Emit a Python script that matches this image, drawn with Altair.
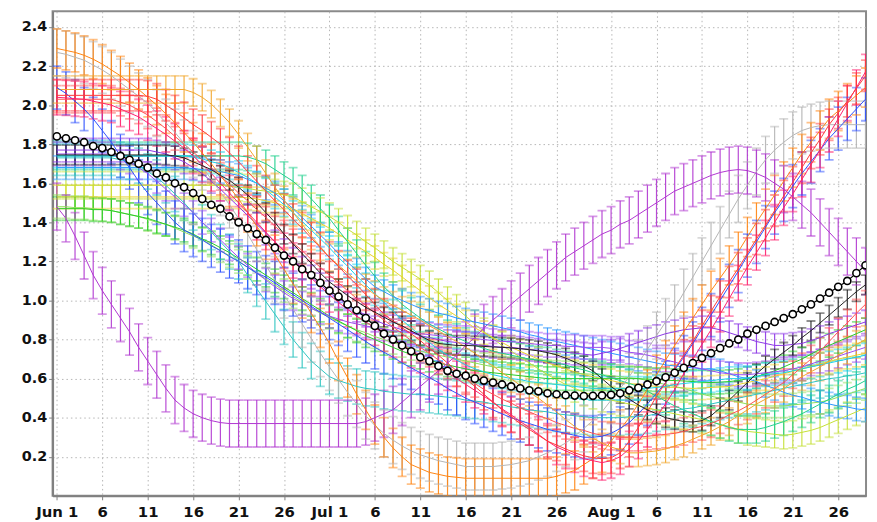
import altair as alt
import pandas as pd

# Day index 0 = Jun 1 ... 89 = Aug 29
TICK_DAYS = [0, 5, 10, 15, 20, 25, 30, 35, 40, 45, 50, 55, 61, 66, 71, 76, 81, 86]
TICK_LABELS = ["Jun 1", "6", "11", "16", "21", "26", "Jul 1", "6", "11", "16", "21", "26",
               "Aug 1", "6", "11", "16", "21", "26"]
Y_TICKS = [0.2, 0.4, 0.6, 0.8, 1.0, 1.2, 1.4, 1.6, 1.8, 2.0, 2.2, 2.4]

MEAN = [
    1.84, 1.83, 1.82, 1.81, 1.79, 1.78, 1.76, 1.74, 1.72, 1.70,
    1.68, 1.65, 1.63, 1.60, 1.58, 1.55, 1.52, 1.49, 1.47, 1.43,
    1.40, 1.37, 1.34, 1.31, 1.27, 1.23, 1.20, 1.16, 1.13, 1.09,
    1.05, 1.02, 0.98, 0.95, 0.91, 0.87, 0.83, 0.80, 0.77, 0.74,
    0.71, 0.69, 0.665, 0.64, 0.625, 0.615, 0.60, 0.59, 0.58, 0.57,
    0.56, 0.55, 0.54, 0.535, 0.525, 0.52, 0.515, 0.513, 0.511, 0.512,
    0.514, 0.517, 0.525, 0.54, 0.553, 0.57, 0.587, 0.607, 0.63, 0.655,
    0.68, 0.706, 0.73, 0.756, 0.78, 0.80, 0.83, 0.85, 0.87, 0.89,
    0.91, 0.93, 0.955, 0.98, 1.01, 1.04, 1.07, 1.10, 1.14, 1.18]

BLACK = [1.745] * 13 + [
    1.74, 1.73, 1.71, 1.69, 1.67, 1.64, 1.615,
    1.58, 1.54, 1.50, 1.45, 1.40, 1.34, 1.29, 1.24, 1.19, 1.14,
    1.095, 1.06, 1.025, 0.995, 0.965, 0.94, 0.915, 0.89, 0.87, 0.845,
    0.82, 0.795, 0.78, 0.775, 0.77, 0.77, 0.768, 0.765, 0.762, 0.76,
    0.757, 0.753, 0.748, 0.742, 0.733, 0.722, 0.705, 0.685, 0.665, 0.64,
    0.60, 0.56, 0.525, 0.495, 0.465, 0.44, 0.42, 0.40, 0.39, 0.38,
    0.378, 0.385, 0.41, 0.45, 0.49, 0.535, 0.58, 0.625, 0.665, 0.70,
    0.735, 0.77, 0.81, 0.845, 0.885, 0.925, 0.965, 1.005, 1.045, 1.08]

ORANGE = [
    2.29, 2.28, 2.27, 2.255, 2.235, 2.21, 2.18, 2.15, 2.115, 2.08,
    2.04, 2.0, 1.955, 1.91, 1.86, 1.81, 1.755, 1.70, 1.64, 1.58,
    1.52, 1.45, 1.38, 1.31, 1.235, 1.16, 1.085, 1.01, 0.935, 0.86,
    0.78, 0.69, 0.605, 0.52, 0.44, 0.365, 0.30, 0.245, 0.20, 0.16,
    0.14, 0.12, 0.11, 0.10, 0.095, 0.09, 0.09, 0.09, 0.09, 0.09,
    0.09, 0.09, 0.09, 0.09, 0.09, 0.10, 0.115, 0.13, 0.16, 0.19,
    0.22, 0.28, 0.34, 0.40, 0.47, 0.545, 0.62, 0.695, 0.77, 0.84,
    0.91, 0.98, 1.05, 1.115, 1.18, 1.25, 1.325, 1.40, 1.47, 1.54,
    1.61, 1.68, 1.75, 1.81, 1.87, 1.93, 1.97, 2.01, 2.05, 2.09]

GREY = [
    2.27, 2.26, 2.245, 2.23, 2.205, 2.18, 2.15, 2.115, 2.08, 2.045,
    2.01, 1.96, 1.91, 1.86, 1.805, 1.75, 1.685, 1.62, 1.555, 1.49,
    1.42, 1.34, 1.26, 1.18, 1.105, 1.03, 0.955, 0.88, 0.805, 0.73,
    0.66, 0.595, 0.53, 0.47, 0.41, 0.36, 0.32, 0.285, 0.255, 0.23,
    0.21, 0.195, 0.18, 0.17, 0.16, 0.15, 0.15, 0.15, 0.15, 0.155,
    0.16, 0.17, 0.18, 0.2, 0.22, 0.245, 0.27, 0.305, 0.345, 0.385,
    0.43, 0.49, 0.55, 0.61, 0.68, 0.75, 0.82, 0.89, 0.96, 1.04,
    1.12, 1.20, 1.28, 1.36, 1.44, 1.52, 1.59, 1.66, 1.72, 1.77,
    1.81, 1.845, 1.87, 1.885, 1.895, 1.90, 1.90, 1.90, 1.90, 1.90]

GOLD = [2.08] * 15 + [
    2.065, 2.04, 2.005, 1.96, 1.91,
    1.85, 1.785, 1.72, 1.65, 1.58, 1.515, 1.45, 1.39, 1.33, 1.275,
    1.22, 1.18, 1.14, 1.10, 1.065, 1.03, 1.0, 0.975, 0.95, 0.925,
    0.90, 0.87, 0.845, 0.815, 0.79, 0.76, 0.73, 0.695, 0.665, 0.63,
    0.60, 0.565, 0.53, 0.50, 0.465, 0.43, 0.39, 0.355, 0.32, 0.295,
    0.27, 0.25, 0.235, 0.22, 0.22, 0.225, 0.23, 0.24, 0.255, 0.27,
    0.29, 0.31, 0.33, 0.355, 0.38, 0.41, 0.44, 0.47, 0.495, 0.52,
    0.55, 0.58, 0.61, 0.635, 0.66, 0.69, 0.72, 0.745, 0.775, 0.80]

RED = [2.05] * 10 + [
    2.045, 2.03, 2.0, 1.97, 1.935, 1.90, 1.87, 1.835, 1.80, 1.755,
    1.71, 1.66, 1.61, 1.56, 1.51, 1.465, 1.415, 1.37, 1.32, 1.27,
    1.22, 1.175, 1.125, 1.08, 1.03, 0.98, 0.93, 0.895, 0.86, 0.83,
    0.795, 0.755, 0.72, 0.68, 0.64, 0.60, 0.56, 0.52, 0.48, 0.44,
    0.405, 0.37, 0.34, 0.31, 0.28, 0.26, 0.24, 0.22, 0.205, 0.195,
    0.19, 0.195, 0.22, 0.28, 0.35, 0.43, 0.51, 0.58, 0.65, 0.72,
    0.79, 0.87, 0.945, 1.02, 1.095, 1.165, 1.24, 1.315, 1.385, 1.46,
    1.535, 1.605, 1.68, 1.755, 1.825, 1.90, 1.96, 2.02, 2.085, 2.15]

CRIMSON = [
    2.04, 2.037, 2.033, 2.03, 2.02, 2.01, 2.0, 1.98, 1.96, 1.94,
    1.91, 1.88, 1.85, 1.815, 1.78, 1.74, 1.695, 1.65, 1.60, 1.55,
    1.50, 1.45, 1.40, 1.35, 1.30, 1.255, 1.205, 1.16, 1.115, 1.07,
    1.03, 0.99, 0.955, 0.92, 0.89, 0.86, 0.83, 0.80, 0.775, 0.745,
    0.72, 0.69, 0.66, 0.63, 0.60, 0.57, 0.54, 0.51, 0.48, 0.445,
    0.415, 0.38, 0.35, 0.315, 0.28, 0.25, 0.23, 0.21, 0.19, 0.18,
    0.17, 0.18, 0.20, 0.24, 0.28, 0.34, 0.405, 0.47, 0.545, 0.625,
    0.70, 0.775, 0.85, 0.93, 1.01, 1.09, 1.17, 1.245, 1.32, 1.40,
    1.475, 1.545, 1.62, 1.695, 1.77, 1.85, 1.93, 2.01, 2.09, 2.17]

RED3 = [2.03] * 7 + [2.015, 2.0, 1.975,
    1.95, 1.915, 1.88, 1.84, 1.80, 1.76, 1.72, 1.68, 1.635, 1.595,
    1.55, 1.51, 1.465, 1.425, 1.38, 1.34, 1.295, 1.255, 1.21, 1.17,
    1.13, 1.09, 1.05, 1.01, 0.975, 0.935, 0.90, 0.865, 0.83, 0.795,
    0.76, 0.73, 0.695, 0.665, 0.63, 0.60, 0.575, 0.545, 0.52, 0.495,
    0.475, 0.45, 0.43, 0.41, 0.395, 0.375, 0.36, 0.345, 0.335, 0.32,
    0.31, 0.305, 0.30, 0.30, 0.30, 0.305, 0.31, 0.315, 0.32, 0.33,
    0.345, 0.355, 0.37, 0.39, 0.415, 0.435, 0.46, 0.49, 0.52, 0.55,
    0.58, 0.62, 0.66, 0.70, 0.74, 0.79, 0.84, 0.885, 0.935, 0.98]

BLUE = [
    2.09, 2.06, 2.02, 1.98, 1.93, 1.87, 1.81, 1.74, 1.68, 1.61,
    1.55, 1.50, 1.45, 1.40, 1.36, 1.335, 1.31, 1.28, 1.255, 1.225,
    1.20, 1.17, 1.14, 1.12, 1.09, 1.06, 1.03, 1.0, 0.97, 0.94,
    0.91, 0.88, 0.85, 0.82, 0.79, 0.76, 0.735, 0.71, 0.68, 0.655,
    0.63, 0.605, 0.58, 0.55, 0.525, 0.50, 0.48, 0.46, 0.44, 0.42,
    0.40, 0.385, 0.37, 0.355, 0.34, 0.33, 0.32, 0.31, 0.30, 0.30,
    0.305, 0.32, 0.345, 0.375, 0.42, 0.47, 0.525, 0.58, 0.645, 0.71,
    0.78, 0.855, 0.925, 1.0, 1.075, 1.15, 1.23, 1.30, 1.375, 1.45,
    1.515, 1.585, 1.65, 1.71, 1.77, 1.83, 1.88, 1.93, 1.98, 2.03]

PURPLE1 = [
    1.48, 1.42, 1.33, 1.23, 1.13, 1.05, 0.98, 0.91, 0.84, 0.76,
    0.69, 0.62, 0.55, 0.49, 0.45, 0.42, 0.40, 0.385, 0.375, 0.37] + [0.37] * 14 + [
    0.38, 0.40, 0.42, 0.44, 0.48, 0.52,
    0.56, 0.60, 0.64, 0.68, 0.72, 0.77, 0.81, 0.86, 0.90, 0.94,
    0.98, 1.02, 1.06, 1.10, 1.14, 1.18, 1.22, 1.25, 1.28, 1.31,
    1.34, 1.36, 1.39, 1.41, 1.44, 1.47, 1.50, 1.53, 1.56, 1.58,
    1.60, 1.62, 1.64, 1.655, 1.665, 1.67, 1.665, 1.65, 1.63, 1.60,
    1.57, 1.53, 1.49, 1.45, 1.40, 1.35, 1.30, 1.25, 1.20, 1.15]

VIOLET = [1.77] * 11 + [1.76, 1.75, 1.73, 1.71, 1.68, 1.65, 1.61, 1.57, 1.525,
    1.48, 1.435, 1.39, 1.345, 1.30, 1.255, 1.21, 1.165, 1.12, 1.08,
    1.04, 1.01, 0.98, 0.95, 0.925, 0.90, 0.88, 0.865, 0.85, 0.835,
    0.82, 0.81, 0.80, 0.79, 0.785, 0.78, 0.775, 0.77, 0.765, 0.76,
    0.76, 0.755, 0.75, 0.745, 0.74, 0.74, 0.735, 0.73, 0.725, 0.72,
    0.73, 0.74, 0.755, 0.77, 0.785, 0.80, 0.815, 0.83, 0.84, 0.85,
    0.855, 0.86, 0.86, 0.85, 0.835, 0.82, 0.805, 0.79, 0.78, 0.77,
    0.77, 0.775, 0.78, 0.795, 0.81, 0.83, 0.845, 0.86, 0.875, 0.89]

PURPLE2 = [1.75] * 7 + [1.73, 1.71, 1.68,
    1.65, 1.61, 1.57, 1.53, 1.49, 1.45, 1.40, 1.36, 1.31, 1.265,
    1.22, 1.18, 1.14, 1.105, 1.07, 1.04, 1.01, 0.985, 0.96, 0.94,
    0.92, 0.905, 0.89, 0.88, 0.87, 0.86, 0.855, 0.845, 0.84, 0.835,
    0.83, 0.825, 0.82, 0.815, 0.81, 0.81, 0.805, 0.80, 0.795, 0.79,
    0.79, 0.785, 0.78, 0.775, 0.77, 0.77, 0.765, 0.765, 0.76, 0.76,
    0.76, 0.755, 0.745, 0.735, 0.73, 0.72, 0.71, 0.695, 0.685, 0.67,
    0.66, 0.65, 0.64, 0.63, 0.625, 0.62, 0.62, 0.625, 0.63, 0.635,
    0.64, 0.65, 0.66, 0.675, 0.69, 0.70, 0.715, 0.73, 0.745, 0.76]

TEAL = [1.73] * 7 + [1.72, 1.71, 1.69,
    1.66, 1.63, 1.59, 1.545, 1.50, 1.45, 1.40, 1.35, 1.30, 1.25,
    1.20, 1.13, 1.06, 0.995, 0.93, 0.865, 0.80, 0.745, 0.69, 0.65,
    0.61, 0.59, 0.575, 0.56, 0.55, 0.545, 0.535, 0.53, 0.525, 0.52,
    0.52, 0.515, 0.51, 0.505, 0.50, 0.49, 0.485, 0.48, 0.47, 0.465,
    0.455, 0.45, 0.44, 0.435, 0.43, 0.42, 0.415, 0.41, 0.405, 0.40,
    0.40, 0.40, 0.40, 0.405, 0.405, 0.41, 0.42, 0.43, 0.435, 0.445,
    0.45, 0.46, 0.47, 0.48, 0.49, 0.50, 0.51, 0.52, 0.53, 0.54,
    0.55, 0.56, 0.57, 0.58, 0.59, 0.60, 0.605, 0.615, 0.62, 0.63]

CYAN = [1.74] * 15 + [1.735, 1.725, 1.71, 1.70, 1.68,
    1.655, 1.63, 1.60, 1.565, 1.53, 1.49, 1.45, 1.405, 1.36, 1.315,
    1.27, 1.22, 1.175, 1.125, 1.08, 1.035, 0.99, 0.945, 0.90, 0.86,
    0.82, 0.785, 0.75, 0.72, 0.695, 0.67, 0.65, 0.635, 0.62, 0.61,
    0.60, 0.595, 0.585, 0.58, 0.575, 0.57, 0.565, 0.56, 0.555, 0.55,
    0.55, 0.55, 0.55, 0.55, 0.55, 0.55, 0.555, 0.56, 0.57, 0.575,
    0.58, 0.585, 0.59, 0.595, 0.60, 0.60, 0.605, 0.61, 0.62, 0.625,
    0.63, 0.64, 0.65, 0.66, 0.67, 0.68, 0.69, 0.70, 0.71, 0.72]

SKY = [1.68] * 15 + [1.675, 1.67, 1.665, 1.66, 1.65,
    1.64, 1.62, 1.60, 1.575, 1.55, 1.51, 1.47, 1.425, 1.38, 1.335,
    1.29, 1.24, 1.195, 1.155, 1.11, 1.07, 1.045, 1.02, 1.0, 0.98,
    0.96, 0.95, 0.935, 0.925, 0.91, 0.90, 0.89, 0.88, 0.87, 0.86,
    0.85, 0.84, 0.825, 0.815, 0.80, 0.79, 0.78, 0.77, 0.76, 0.75,
    0.74, 0.73, 0.72, 0.71, 0.70, 0.69, 0.68, 0.67, 0.665, 0.66,
    0.655, 0.65, 0.65, 0.64, 0.625, 0.61, 0.60, 0.585, 0.565, 0.55,
    0.53, 0.515, 0.505, 0.49, 0.48, 0.47, 0.46, 0.455, 0.445, 0.44]

JADE = [1.74] * 21 + [1.735, 1.72, 1.70, 1.67, 1.64, 1.61, 1.57, 1.52, 1.47,
    1.42, 1.36, 1.30, 1.24, 1.18, 1.125, 1.07, 1.025, 0.98, 0.945,
    0.91, 0.88, 0.855, 0.83, 0.81, 0.79, 0.77, 0.755, 0.74, 0.73,
    0.72, 0.71, 0.70, 0.695, 0.69, 0.68, 0.67, 0.655, 0.645, 0.63,
    0.62, 0.605, 0.59, 0.575, 0.56, 0.535, 0.51, 0.485, 0.46, 0.44,
    0.42, 0.40, 0.38, 0.365, 0.35, 0.34, 0.34, 0.34, 0.35, 0.365,
    0.38, 0.40, 0.42, 0.445, 0.47, 0.495, 0.52, 0.545, 0.565, 0.59]

GREEN = [
    1.47, 1.47, 1.47, 1.47, 1.465, 1.465, 1.46, 1.45, 1.44, 1.43,
    1.42, 1.405, 1.39, 1.375, 1.36, 1.34, 1.315, 1.295, 1.27, 1.245,
    1.215, 1.19, 1.16, 1.13, 1.10, 1.07, 1.04, 1.01, 0.98, 0.95,
    0.92, 0.895, 0.87, 0.845, 0.82, 0.80, 0.78, 0.76, 0.74, 0.725,
    0.71, 0.695, 0.68, 0.67, 0.66, 0.65, 0.64, 0.635, 0.63, 0.625,
    0.62, 0.615, 0.61, 0.605, 0.60, 0.60, 0.60, 0.60, 0.60, 0.60,
    0.60, 0.60, 0.60, 0.60, 0.60, 0.597, 0.595, 0.592, 0.59, 0.588,
    0.585, 0.582, 0.58, 0.582, 0.585, 0.59, 0.60, 0.61, 0.625, 0.64,
    0.66, 0.68, 0.70, 0.725, 0.75, 0.77, 0.79, 0.81, 0.83, 0.85]

LGREEN = [
    1.48, 1.48, 1.475, 1.475, 1.47, 1.465, 1.46, 1.45, 1.44, 1.43,
    1.415, 1.40, 1.39, 1.37, 1.35, 1.33, 1.31, 1.285, 1.255, 1.23,
    1.20, 1.17, 1.14, 1.11, 1.08, 1.05, 1.02, 0.99, 0.96, 0.935,
    0.915, 0.89, 0.87, 0.85, 0.835, 0.815, 0.80, 0.785, 0.77, 0.755,
    0.74, 0.73, 0.72, 0.71, 0.70, 0.69, 0.68, 0.67, 0.66, 0.655,
    0.65, 0.645, 0.64, 0.638, 0.635, 0.632, 0.63, 0.628, 0.625, 0.622,
    0.62, 0.615, 0.61, 0.605, 0.60, 0.59, 0.58, 0.57, 0.56, 0.55,
    0.535, 0.52, 0.51, 0.50, 0.49, 0.48, 0.47, 0.465, 0.46, 0.46,
    0.46, 0.465, 0.47, 0.475, 0.48, 0.49, 0.505, 0.52, 0.535, 0.55]

YGREEN = [1.59] * 19 + [1.585,
    1.58, 1.575, 1.565, 1.56, 1.55, 1.54, 1.53, 1.505, 1.48, 1.455,
    1.43, 1.40, 1.365, 1.335, 1.30, 1.27, 1.235, 1.20, 1.17, 1.14,
    1.11, 1.08, 1.04, 1.0, 0.96, 0.92, 0.88, 0.84, 0.805, 0.77,
    0.74, 0.71, 0.68, 0.65, 0.62, 0.595, 0.57, 0.55, 0.53, 0.515,
    0.50, 0.49, 0.48, 0.47, 0.46, 0.45, 0.44, 0.43, 0.42, 0.41,
    0.40, 0.39, 0.38, 0.365, 0.355, 0.34, 0.33, 0.325, 0.32, 0.315,
    0.31, 0.315, 0.325, 0.335, 0.35, 0.37, 0.39, 0.41, 0.43, 0.45]

YELLOW = [1.53] * 21 + [1.525, 1.52, 1.51, 1.50, 1.485, 1.47, 1.445, 1.42, 1.395,
    1.37, 1.34, 1.31, 1.28, 1.25, 1.22, 1.185, 1.155, 1.12, 1.085,
    1.05, 1.015, 0.98, 0.95, 0.92, 0.89, 0.86, 0.835, 0.81, 0.785,
    0.76, 0.74, 0.72, 0.70, 0.68, 0.665, 0.65, 0.635, 0.62, 0.61,
    0.60, 0.59, 0.58, 0.575, 0.57, 0.565, 0.56, 0.557, 0.555, 0.552,
    0.55, 0.552, 0.555, 0.557, 0.56, 0.57, 0.58, 0.59, 0.60, 0.612,
    0.625, 0.637, 0.65, 0.662, 0.675, 0.687, 0.70, 0.71, 0.72, 0.73]

# (name, colour, error half-width, values) in drawing order
SERIES = [
    ("yellow", "#e9d12a", 0.06, YELLOW),
    ("ygreen", "#c4e035", 0.07, YGREEN),
    ("lgreen", "#8ee05a", 0.06, LGREEN),
    ("green", "#25cc25", 0.06, GREEN),
    ("jade", "#1ecf8c", 0.07, JADE),
    ("sky", "#2a96ff", 0.06, SKY),
    ("cyan", "#18d0e8", 0.06, CYAN),
    ("teal", "#2cc4c0", 0.09, TEAL),
    ("purple2", "#9d4cf0", 0.06, PURPLE2),
    ("violet", "#8c36e6", 0.06, VIOLET),
    ("red3", "#ff5050", 0.07, RED3),
    ("gold", "#f2a52a", 0.07, GOLD),
    ("grey", "#b4b4b4", 0.12, GREY),
    ("orange", "#ff8410", 0.10, ORANGE),
    ("blue", "#2e50ff", 0.11, BLUE),
    ("crimson", "#ff1f6e", 0.09, CRIMSON),
    ("red", "#ff3a3a", 0.08, RED),
    ("purple1", "#b035d0", 0.12, PURPLE1),
    ("black", "#222222", 0.05, BLACK),
]

rows = []
for name, color, err, vals in SERIES:
    for d, v in enumerate(vals):
        rows.append({"s": name, "d": d, "v": v, "lo": v - err, "hi": v + err})
df = pd.DataFrame(rows)
mean_df = pd.DataFrame({"d": list(range(len(MEAN))), "v": MEAN})

names = [s[0] for s in SERIES]
colors = [s[1] for s in SERIES]

label_expr = "''"
for td, tl in reversed(list(zip(TICK_DAYS, TICK_LABELS))):
    label_expr = f"datum.value == {td} ? '{tl}' : ({label_expr})"

xscale = alt.Scale(domain=[-0.47, 89.06], nice=False, zero=False)
yscale = alt.Scale(domain=[0, 2.48], nice=False, zero=False)
xaxis = alt.Axis(values=TICK_DAYS, labelExpr=label_expr, title=None, grid=True,
                 tickSize=4, labelPadding=5, labelFontSize=15, labelAngle=0)
yaxis = alt.Axis(values=Y_TICKS, format=".1f", title=None, grid=True,
                 tickSize=4, labelPadding=2, labelFontSize=14.5)

X = alt.X("d:Q", scale=xscale, axis=xaxis)
col = alt.Color("s:N", scale=alt.Scale(domain=names, range=colors), legend=None)

base = alt.Chart(df)
rules = base.mark_rule(strokeWidth=1.2, opacity=0.9, clip=True).encode(
    x=X, y=alt.Y("lo:Q", scale=yscale, axis=yaxis), y2="hi:Q", color=col)
caps_lo = base.mark_tick(orient="horizontal", size=9, thickness=1.8, opacity=0.5, clip=True).encode(
    x=X, y=alt.Y("lo:Q", scale=yscale, axis=yaxis), color=col)
caps_hi = base.mark_tick(orient="horizontal", size=9, thickness=1.8, opacity=0.5, clip=True).encode(
    x=X, y=alt.Y("hi:Q", scale=yscale, axis=yaxis), color=col)
lines = base.mark_line(strokeWidth=1, clip=True).encode(
    x=X, y=alt.Y("v:Q", scale=yscale, axis=yaxis), color=col, order="d:Q")

mbase = alt.Chart(mean_df)
mline = mbase.mark_line(color="#000000", strokeWidth=1.2, clip=True).encode(
    x=X, y=alt.Y("v:Q", scale=yscale, axis=yaxis))
mpts = mbase.mark_point(shape="circle", size=52, filled=True, fill="#ffffff",
                        stroke="#000000", strokeWidth=1.6, opacity=1, clip=True).encode(
    x=X, y=alt.Y("v:Q", scale=yscale, axis=yaxis))

chart = alt.layer(rules, caps_lo, caps_hi, lines, mline, mpts).properties(
    width=821, height=489,
    autosize=alt.AutoSizeParams(type="none"),
    padding={"left": 45, "top": 1, "right": 3, "bottom": 22},
).configure_view(
    stroke="#8a8a8a", strokeWidth=2
).configure_axis(
    labelFont="DejaVu Sans", labelFontWeight="bold", labelColor="#111111",
    domainColor="#808080", domainWidth=2, tickColor="#808080",
    gridColor="#b5b5b5", gridDash=[1.5, 3], gridWidth=1,
)

chart.save("out.html", embed_options={"renderer": "svg", "actions": False})
